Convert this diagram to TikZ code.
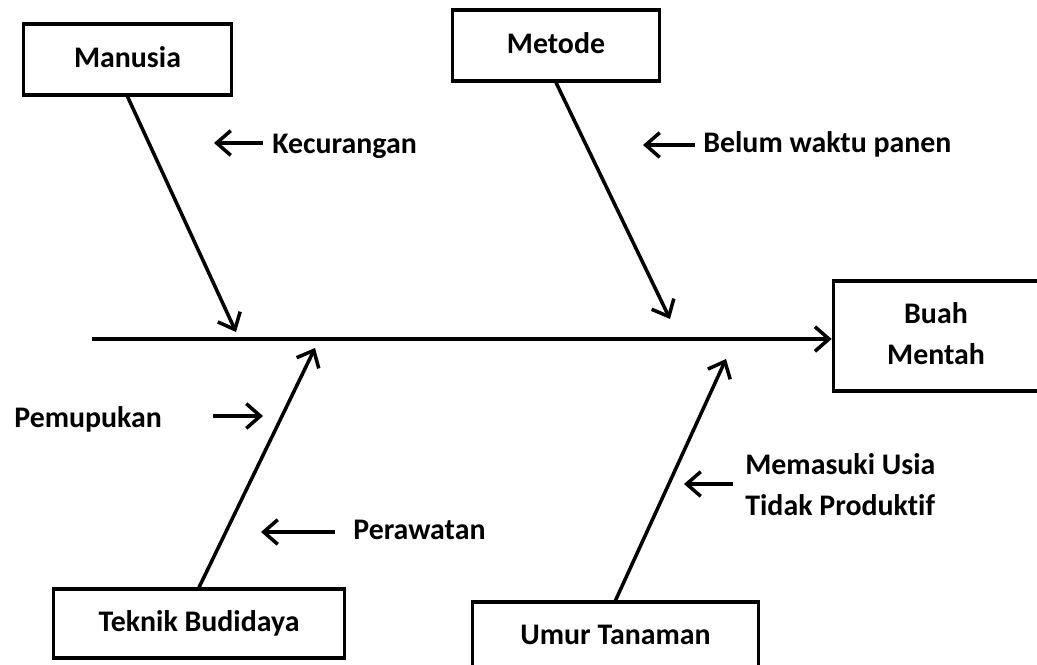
\documentclass[tikz,border=0pt]{standalone}
\usepackage{fontspec}
\setmainfont{Carlito}[Ligatures=NoCommon]
\usepackage{tikz}
\usetikzlibrary{arrows.meta, positioning}

\begin{document}
\begin{tikzpicture}[
        x=0.02cm, y=-0.02cm,
        box/.style={rectangle, draw, line width=2pt, text centered, text height=11pt, text depth=1.4pt, font=\fontsize{17}{23}\selectfont\bfseries},
        lbl/.style={inner sep=0pt, anchor=base west, font=\fontsize{17}{23}\selectfont\bfseries},
        arr/.style={-{Straight Barb[length=8pt, width=14pt]}, line width=2pt}
    ]
        \useasboundingbox (0,0) rectangle (1037,665);

        % Causes and effect
        \node[box, minimum width=118.5pt, minimum height=40.2pt] (manusia) at (127.5, 59.5) {Manusia};
        \node[box, minimum width=117.9pt, minimum height=40.2pt] (metode) at (556, 45.5) {Metode};
        \node[box, minimum width=165.5pt, minimum height=39.1pt] (teknik) at (199, 623.5) {Teknik Budidaya};
        \node[box, minimum width=162.7pt, minimum height=39.1pt] (umur) at (615.5, 636.5) {Umur Tanaman};
        \node[box, minimum width=116.8pt, minimum height=62.4pt, text height=, text depth=] (buah) at (936, 336)
            {\raisebox{2.3pt}{\begin{tabular}{@{}c@{}}Buah\\Mentah\end{tabular}}};

        % Spine
        \coordinate (tail) at (92, 339);
        \draw[arr] (tail) -- (tail -| buah.west);

        % Bones
        \coordinate (tipM) at (236, 332);
        \coordinate (tipMt) at (670, 319);
        \coordinate (tipT) at (315, 348);
        \coordinate (tipU) at (726, 359);
        \draw[arr] (manusia.south) -- (tipM);
        \draw[arr] (metode.south) -- (tipMt);
        \draw[arr] (teknik.north) -- (tipT);
        \draw[arr] (umur.north) -- (tipU);

        % Sub causes
        \node[lbl] (kecurangan) at (272, 154) {Kecurangan};
        \coordinate (k1) at (263, 143); \coordinate (k2) at (214, 143);
        \draw[arr] (k1) -- (k2);

        \node[lbl] (belum) at (703, 153) {Belum waktu panen};
        \coordinate (b1) at (695, 145); \coordinate (b2) at (643, 145);
        \draw[arr] (b1) -- (b2);

        \node[lbl] (pupuk) at (14, 427) {Pemupukan};
        \coordinate (p1) at (213, 416); \coordinate (p2) at (263, 416);
        \draw[arr] (p1) -- (p2);

        \node[lbl] (rawat) at (353, 539) {Perawatan};
        \coordinate (r1) at (335, 532); \coordinate (r2) at (261, 532);
        \draw[arr] (r1) -- (r2);

        \node[lbl] (usia) at (745, 474) {Memasuki Usia};
        \node[lbl] (produktif) at (745, 515) {Tidak Produktif};
        \coordinate (u1) at (733, 484); \coordinate (u2) at (684, 484);
        \draw[arr] (u1) -- (u2);
    \end{tikzpicture}
\end{document}
